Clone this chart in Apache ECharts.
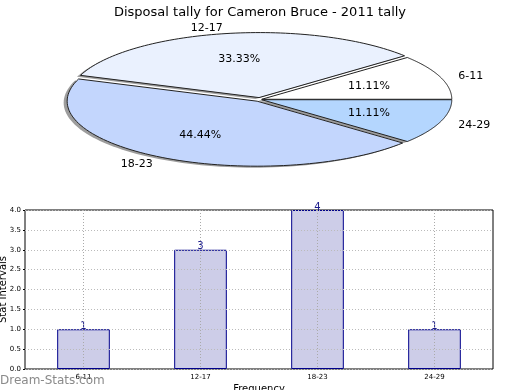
<!DOCTYPE html>
<html>
<head>
<meta charset="utf-8">
<script src="https://cdn.jsdelivr.net/npm/echarts@6/dist/echarts.min.js"></script>
<style>
html,body{margin:0;padding:0;background:#fff;}
#main{width:520px;height:390px;}
</style>
</head>
<body>
<div id="main"></div>
<script>
// ---- data ----
const titleText = 'Disposal tally for Cameron Bruce - 2011 tally';
const pieCategories = ['6-11', '12-17', '18-23', '24-29'];
const pieValues = [1, 3, 4, 1];
const barCategories = ['6-11', '12-17', '18-23', '24-29'];
const barValues = [1, 3, 4, 1];
const yTickLabels = ['0.0','0.5','1.0','1.5','2.0','2.5','3.0','3.5','4.0'];

// ---- styles / layout ----
const sliceColors = ['#ffffff', '#eaf1fe', '#c3d6fd', '#b4d6fe'];
const explode = [0.01, 0.03, 0.03, 0.01];
const PIE = {cx: 260, cy: 99.5, rx: 190, ry: 65};
const FONT = 'DejaVu Sans';

const total = pieValues.reduce((a, b) => a + b, 0);
const starts = [];
let acc = 0;
pieValues.forEach(v => { starts.push(acc / total * Math.PI * 2); acc += v; });

function pieRender(params, api) {
  const i = params.dataIndex;
  const v = api.value(0);
  const a0 = starts[i];
  const a1 = a0 + v / total * Math.PI * 2;
  const mid = (a0 + a1) / 2;
  const e = explode[i];
  const ox = PIE.cx + e * PIE.rx * Math.cos(mid);
  const oy = PIE.cy - e * PIE.ry * Math.sin(mid);
  const N = 80;
  const pts = [[ox, oy]];
  for (let k = 0; k <= N; k++) {
    const t = a0 + (a1 - a0) * k / N;
    pts.push([ox + PIE.rx * Math.cos(t), oy - PIE.ry * Math.sin(t)]);
  }
  const shadowPts = pts.map(p => [p[0] - 3.5, p[1] + 1.5]);
  const c = Math.cos(mid), s = Math.sin(mid);
  return {
    type: 'group',
    children: [
      {type: 'polygon', shape: {points: shadowPts}, style: {fill: '#8c8c8c', opacity: 0.85}, z2: 1},
      {type: 'polygon', shape: {points: pts}, style: {fill: sliceColors[i], stroke: '#222', lineWidth: 1}, z2: 10},
      {type: 'text', z2: 20, style: {
        x: ox + 0.6 * PIE.rx * c, y: oy - 0.6 * PIE.ry * s,
        text: (v / total * 100).toFixed(2) + '%', align: 'center', verticalAlign: 'middle',
        fontSize: 11, fontFamily: FONT, fill: '#000'}},
      {type: 'text', z2: 20, style: {
        x: ox + 1.1 * PIE.rx * c, y: oy - 1.1 * PIE.ry * s + 1,
        text: pieCategories[i], align: c >= 0 ? 'left' : 'right', verticalAlign: 'middle',
        fontSize: 11, fontFamily: FONT, fill: '#000'}}
    ]
  };
}

const chart = echarts.init(document.getElementById('main'), null, {renderer: 'canvas'});
chart.setOption({
  animation: false,
  backgroundColor: '#fff',
  textStyle: {fontFamily: FONT},
  title: {text: titleText, left: 'center', top: 1,
    textStyle: {fontSize: 13, fontWeight: 'normal', color: '#000', fontFamily: FONT}},
  graphic: [{type: 'text', left: 0, top: 375, z: 10,
    style: {text: 'Dream-Stats.com', fontSize: 12, fontFamily: FONT, fill: '#8a8a8a'}}],
  grid: {left: 25, right: 27, top: 210, bottom: 21, show: true, borderColor: '#000', borderWidth: 1,
    containLabel: false, outerBoundsMode: 'none'},
  xAxis: {
    type: 'category', data: barCategories, z: 5,
    name: 'Frequency', nameLocation: 'middle', nameGap: 15, nameMoveOverlap: false,
    nameTextStyle: {fontSize: 10, color: '#000', verticalAlign: 'top'},
    axisLine: {show: false}, axisTick: {show: false, alignWithLabel: true},
    axisLabel: {fontSize: 7, color: '#000', margin: 5},
    splitLine: {show: true, alignWithLabel: true, lineStyle: {color: '#aaa', type: [1, 2], width: 1}}
  },
  yAxis: {
    type: 'value', min: 0, max: 4, interval: 0.5, z: 5,
    name: 'Stat Intervals', nameLocation: 'middle', nameGap: 17, nameRotate: 90, nameMoveOverlap: false,
    nameTextStyle: {fontSize: 10, color: '#000'},
    axisLine: {show: false}, axisTick: {show: true, length: 2, lineStyle: {color: '#000'}},
    axisLabel: {fontSize: 7, color: '#000', margin: 4, formatter: v => yTickLabels[Math.round(v / 0.5)]},
    splitLine: {show: true, lineStyle: {color: '#bbb', type: [1, 2], width: 1}}
  },
  series: [
    {
      type: 'custom', coordinateSystem: 'none', renderItem: pieRender,
      data: pieValues.map((v, i) => ({value: v, name: pieCategories[i]})), silent: true
    },
    {
      type: 'bar', data: barValues, barWidth: '45%',
      itemStyle: {color: '#cdcde8', borderColor: '#00008b', borderWidth: 1},
      label: {show: true, position: 'top', distance: -2, fontSize: 10, color: '#1c1c8c', fontFamily: FONT}
    }
  ]
});
</script>
</body>
</html>
